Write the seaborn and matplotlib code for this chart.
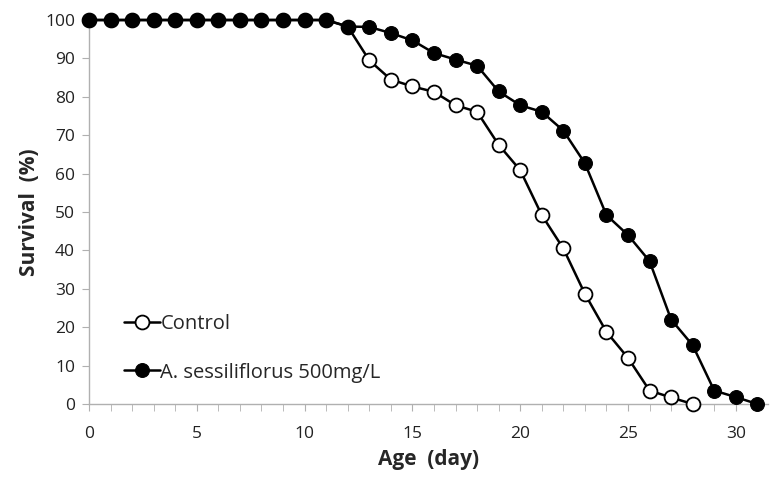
import numpy as np
import pandas as pd
import matplotlib
matplotlib.use("Agg")
import matplotlib.pyplot as plt
import seaborn as sns
from matplotlib.ticker import MultipleLocator

days_control = list(range(0, 29))
control = [100] * 12 + [98.3, 89.5, 84.5, 82.7, 81.3, 77.8, 76.1, 67.5, 60.9,
                        49.2, 40.5, 28.7, 18.8, 12.0, 3.5, 1.7, 0.0]
days_treat = list(range(0, 32))
treated = [100] * 12 + [98.3, 98.2, 96.6, 94.7, 91.4, 89.7, 88.1, 81.4, 77.8,
                        76.1, 71.2, 62.7, 49.2, 44.0, 37.2, 22.0, 15.3, 3.5,
                        1.8, 0.0]
labels = ["Control", "A. sessiliflorus 500mg/L"]

sns.set_style("white")
plt.rcParams['font.family'] = ['Open Sans', 'DejaVu Sans']

df_c = pd.DataFrame({"day": days_control, "surv": control})
df_t = pd.DataFrame({"day": days_treat, "surv": treated})

fig = plt.figure(figsize=(7.72, 4.8), dpi=100)
ax = fig.add_axes([0.1153, 0.1583, 0.8797, 0.80])

sns.lineplot(data=df_c, x="day", y="surv", ax=ax, color="black", lw=1.8,
             marker="o", markersize=10, markerfacecolor="white",
             markeredgecolor="black", markeredgewidth=1.3, label=labels[0],
             clip_on=False, zorder=3)
sns.lineplot(data=df_t, x="day", y="surv", ax=ax, color="black", lw=1.8,
             marker="o", markersize=10, markerfacecolor="black",
             markeredgecolor="black", label=labels[1], clip_on=False, zorder=4)

ax.set_xlim(0, 31.5)
ax.set_ylim(0, 100)
ax.xaxis.set_major_locator(MultipleLocator(5))
ax.xaxis.set_minor_locator(MultipleLocator(1))
ax.yaxis.set_major_locator(MultipleLocator(10))

for s in ["top", "right"]:
    ax.spines[s].set_visible(False)
for s in ["left", "bottom"]:
    ax.spines[s].set_color("#b0b0b0")
    ax.spines[s].set_linewidth(1.0)

ax.tick_params(axis="both", which="both", color="#b0b0b0", direction="out",
               labelsize=12.5, labelcolor="#222222")
ax.tick_params(axis="x", which="both", length=5, bottom=True, pad=11)
ax.tick_params(axis="y", which="major", length=5, left=True, pad=5)

ax.set_xlabel("Age  (day)", fontsize=15, fontweight="bold", labelpad=5)
ax.set_ylabel("Survival  (%)", fontsize=15, fontweight="bold", labelpad=4)

leg = ax.legend(loc="lower left", bbox_to_anchor=(0.04, 0.035), frameon=False,
                fontsize=14.5, handlelength=1.8, handletextpad=0.0,
                labelspacing=1.4, borderaxespad=0)

fig.savefig("out.png", dpi=100)
